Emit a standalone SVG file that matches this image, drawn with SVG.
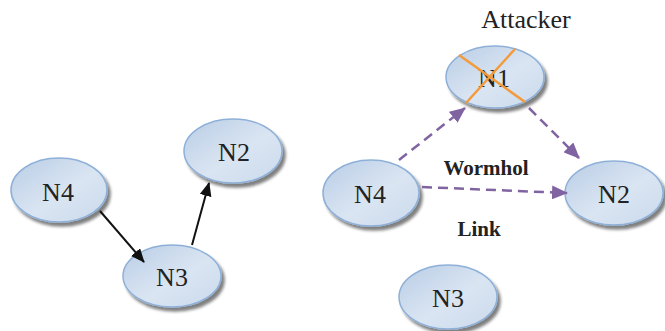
<svg xmlns="http://www.w3.org/2000/svg" width="665" height="331" viewBox="0 0 665 331">
<defs>
<linearGradient id="g" x1="0" y1="0" x2="1" y2="1">
<stop offset="0" stop-color="#b9cde6"/>
<stop offset="0.55" stop-color="#dae5f2"/>
<stop offset="1" stop-color="#c9d9ec"/>
</linearGradient>
<filter id="sh" x="-20%" y="-20%" width="150%" height="160%">
<feGaussianBlur in="SourceAlpha" stdDeviation="1.5"/>
<feOffset dx="3" dy="4" result="b"/>
<feComponentTransfer><feFuncA type="linear" slope="0.5"/></feComponentTransfer>
<feMerge><feMergeNode/><feMergeNode in="SourceGraphic"/></feMerge>
</filter>
<marker id="ab" viewBox="0 0 14 12" refX="13" refY="6" markerWidth="14" markerHeight="12" markerUnits="userSpaceOnUse" orient="auto">
<path d="M0,0 L14,6 L0,12 Z" fill="#111"/>
</marker>
<marker id="ap" viewBox="0 0 16 14" refX="15" refY="7" markerWidth="16" markerHeight="14" markerUnits="userSpaceOnUse" orient="auto">
<path d="M0,0 L16,7 L0,14 Z" fill="#8064a2"/>
</marker>
</defs>
<style>
.node ellipse{fill:url(#g);stroke:#8eb0d8;stroke-width:1.5;filter:url(#sh)}
.lbl{font-family:"Liberation Serif","Times New Roman",serif;font-size:26px;fill:#222;text-anchor:middle}
.bold{font-family:"Liberation Serif","Times New Roman",serif;font-size:21px;font-weight:bold;fill:#222;text-anchor:middle}
.solid{stroke:#111;stroke-width:2;fill:none;marker-end:url(#ab)}
.dash{stroke:#8064a2;stroke-width:2.5;fill:none;stroke-dasharray:10 6;marker-end:url(#ap)}
.x{stroke:#f39a3c;stroke-width:2.5}
</style>
<g id="L_N4" class="node"><ellipse cx="59" cy="190" rx="48" ry="32"/><text class="lbl" x="58" y="201">N4</text></g>
<g id="L_N2" class="node"><ellipse cx="233" cy="151" rx="49" ry="32"/><text class="lbl" x="234" y="161">N2</text></g>
<g id="L_N3" class="node"><ellipse cx="172" cy="276" rx="49" ry="31"/><text class="lbl" x="172" y="286">N3</text></g>
<g id="R_N1" class="node"><ellipse cx="495" cy="77" rx="49" ry="31"/><text class="lbl" x="494" y="87">N1</text>
<line class="x" x1="459" y1="55" x2="525" y2="102"/>
<line class="x" x1="515" y1="49" x2="466" y2="103"/></g>
<g id="R_N4" class="node"><ellipse cx="371" cy="193" rx="48" ry="33"/><text class="lbl" x="370" y="203">N4</text></g>
<g id="R_N2" class="node"><ellipse cx="614" cy="193" rx="49" ry="32"/><text class="lbl" x="614" y="203">N2</text></g>
<g id="R_N3" class="node"><ellipse cx="448" cy="297" rx="49" ry="32"/><text class="lbl" x="448" y="307">N3</text></g>
<text class="lbl" x="526" y="28">Attacker</text>
<text class="bold" x="486" y="175">Wormhol</text>
<text class="bold" x="479" y="236">Link</text>
<g id="connectors">
<line class="solid" x1="100" y1="211" x2="144" y2="262"/>
<line class="solid" x1="192" y1="245" x2="209" y2="183"/>
<line class="dash" x1="399" y1="160" x2="465" y2="108"/>
<line class="dash" x1="529" y1="108" x2="579" y2="158"/>
<line class="dash" x1="422" y1="187" x2="567" y2="193"/>
</g>
</svg>
